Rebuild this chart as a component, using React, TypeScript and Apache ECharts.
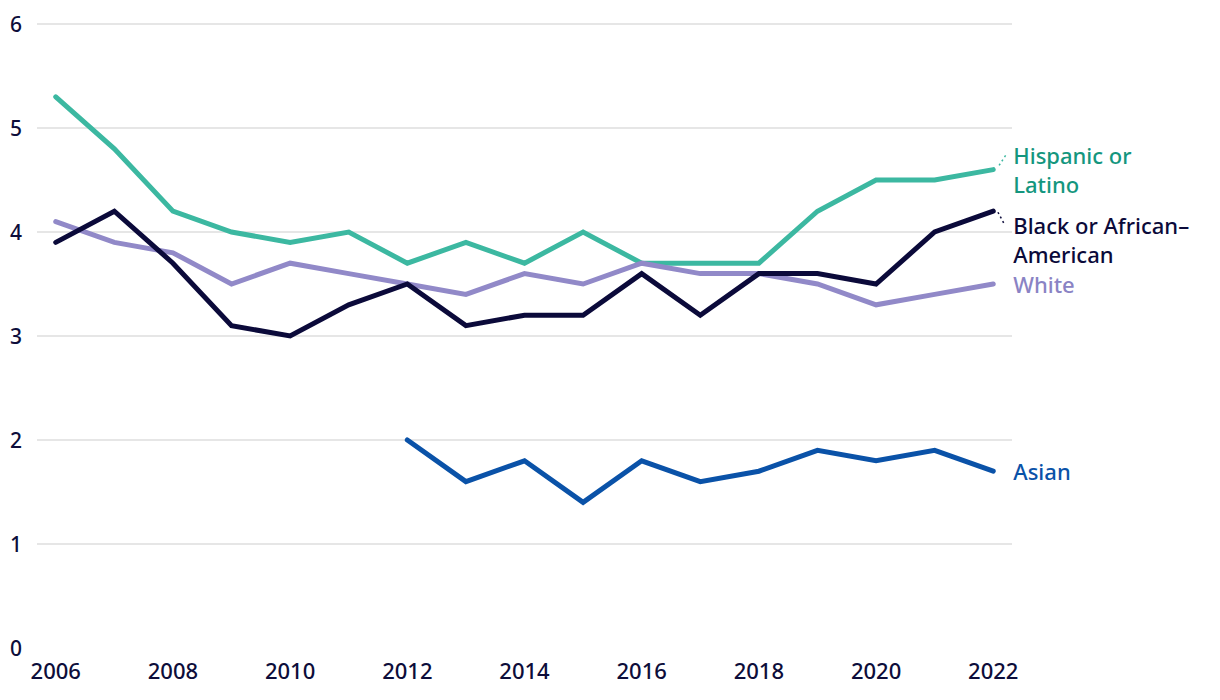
import React, { useEffect, useRef } from "react";
import * as echarts from "echarts";

const years = [2006, 2007, 2008, 2009, 2010, 2011, 2012, 2013, 2014, 2015, 2016, 2017, 2018, 2019, 2020, 2021, 2022];
const xTicks = [2006, 2008, 2010, 2012, 2014, 2016, 2018, 2020, 2022];
const hispanic = [5.3, 4.8, 4.2, 4.0, 3.9, 4.0, 3.7, 3.9, 3.7, 4.0, 3.7, 3.7, 3.7, 4.2, 4.5, 4.5, 4.6];
const black = [3.9, 4.2, 3.7, 3.1, 3.0, 3.3, 3.5, 3.1, 3.2, 3.2, 3.6, 3.2, 3.6, 3.6, 3.5, 4.0, 4.2];
const white = [4.1, 3.9, 3.8, 3.5, 3.7, 3.6, 3.5, 3.4, 3.6, 3.5, 3.7, 3.6, 3.6, 3.5, 3.3, 3.4, 3.5];
const asian = [null, null, null, null, null, null, 2.0, 1.6, 1.8, 1.4, 1.8, 1.6, 1.7, 1.9, 1.8, 1.9, 1.7];

const FONT = "'Noto Sans', sans-serif";

function mk(
  name: string,
  data: (number | null)[],
  color: string,
  labelColor: string,
  label: string,
  leader: number[][] | null
) {
  const s: any = {
    type: "line",
    name,
    data: years.map((y, i) => [y, data[i]]),
    symbol: "none",
    lineStyle: { color, width: 5, cap: "round", join: "miter" },
    connectNulls: false,
    endLabel: {
      show: true,
      formatter: label,
      color: labelColor,
      fontFamily: FONT,
      fontSize: 22,
      fontWeight: 500,
      lineHeight: 29,
      distance: 20,
    },
  };
  if (leader) {
    s.markLine = {
      silent: true,
      symbol: "none",
      label: { show: false },
      lineStyle: { color, width: 1.5, type: [2, 3] },
      data: [[{ coord: leader[0] }, { coord: leader[1] }]],
    };
  }
  return s;
}

export default function App() {
  const ref = useRef<HTMLDivElement>(null);
  useEffect(() => {
    document.body.style.margin = "0";
    const chart = echarts.init(ref.current!, null, { renderer: "svg" });
    chart.setOption({
      animation: false,
      grid: { left: 37, right: 208, top: 24, bottom: 52 },
      xAxis: {
        type: "value",
        min: 2005.68,
        max: 2022.32,
        axisLine: { show: false },
        axisTick: { show: false },
        splitLine: { show: false },
        axisLabel: {
          customValues: xTicks,
          color: "#0d0d3a",
          fontFamily: FONT,
          fontSize: 22,
          fontWeight: 500,
          margin: 11,
          formatter: (v: number) => String(v),
        },
      },
      yAxis: {
        type: "value",
        min: 0,
        max: 6,
        interval: 1,
        axisLine: { show: false },
        axisTick: { show: false },
        splitLine: { show: true, showMinLine: false, lineStyle: { color: "#e6e6e6", width: 2 } },
        axisLabel: { color: "#0d0d3a", fontFamily: FONT, fontSize: 21, fontWeight: 500, margin: 15 },
      },
      series: [
        mk("Hispanic or Latino", hispanic, "#3cb8a1", "#14967e", "Hispanic or\nLatino", [[2022.1, 4.64], [2022.22, 4.745]]),
        mk("White", white, "#9189c8", "#8a83c4", "White", null),
        mk("Black or African-American", black, "#0b0a3a", "#0b0a3a", "Black or African–\nAmerican", [[2022.08, 4.19], [2022.2, 4.065]]),
        mk("Asian", asian, "#0a52a8", "#0a52a8", "Asian", null),
      ].map((s: any) => {
        if (s.name === "Black or African-American") s.endLabel.offset = [0, 28];
        return s;
      }),
    });
    return () => chart.dispose();
  }, []);
  return <div ref={ref} style={{ width: 1220, height: 700 }} />;
}
